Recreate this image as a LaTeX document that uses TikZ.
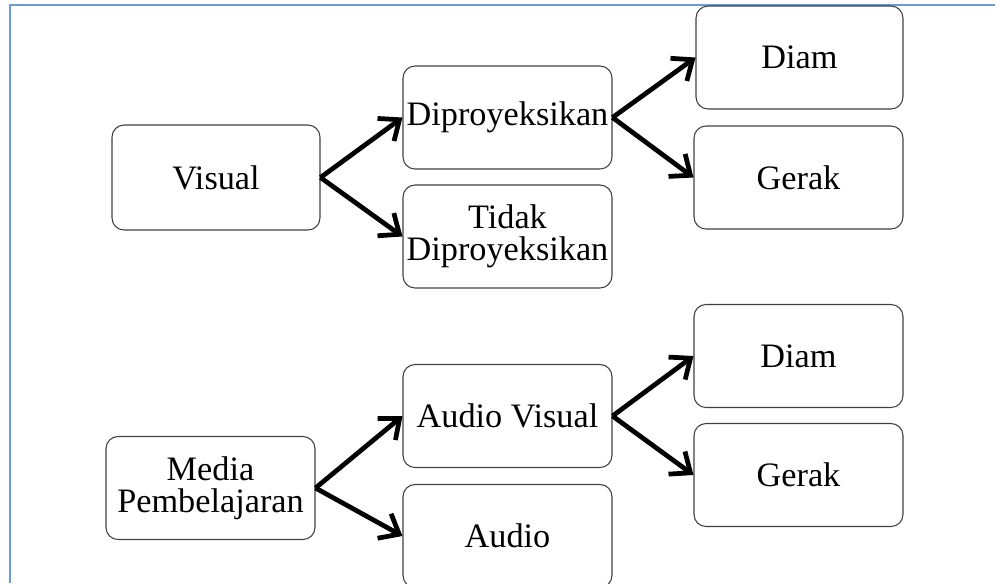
\documentclass[tikz,border=0pt]{standalone}
\usepackage{fontspec}
\setmainfont{Liberation Serif}
\usepackage{tikz}
\usetikzlibrary{arrows.meta}
\definecolor{frameblue}{rgb}{0.42, 0.60, 0.85}
\definecolor{boxgray}{rgb}{0.25, 0.25, 0.25}

\tikzset{
	kotak/.style={draw=boxgray, line width=0.6pt, rounded corners=0.24cm, align=center,
		minimum width=4.18cm, minimum height=2.06cm, inner sep=0pt,
		font=\fontsize{19.5pt}{18.4pt}\selectfont},
	panah/.style={line width=2.7pt, -{Straight Barb[length=3.4mm,width=5.6mm,line width=2.7pt]}}
}

\begin{document}
\begin{tikzpicture}[x=0.02cm,y=-0.02cm]
				\useasboundingbox (0,0) rectangle (995,583);
				\clip (0,0) rectangle (995,583);
				\draw[frameblue,line width=0.7pt] (10,583)--(10,5)--(995,5);
				% cabang visual
				\node[kotak,minimum width=4.16cm,minimum height=2.1cm] (vis) at (216,177.5) {Visual};
				\node[kotak] (dip) at (507.5,117.5) {Diproyeksikan};
				\node[kotak] (tdk) at (507.5,236.5) {Tidak\\Diproyeksikan};
				\node[kotak,minimum width=4.14cm] (diam1) at (799.5,57.5) {Diam};
				\node[kotak] (gerak1) at (798.5,177.5) {Gerak};
				% cabang media
				\node[kotak] (media) at (210.5,488) {Media\\Pembelajaran};
				\node[kotak] (av) at (507.5,416) {Audio Visual};
				\node[kotak] (aud) at (507.5,536) {Audio};
				\node[kotak] (diam2) at (798.5,356) {Diam};
				\node[kotak] (gerak2) at (798.5,475) {Gerak};
				\foreach \a/\b in {vis/dip,vis/tdk,dip/diam1,dip/gerak1,media/av,media/aud,av/diam2,av/gerak2}{\draw[panah] (\a.east)--(\b.west);}
			\end{tikzpicture}
\end{document}
